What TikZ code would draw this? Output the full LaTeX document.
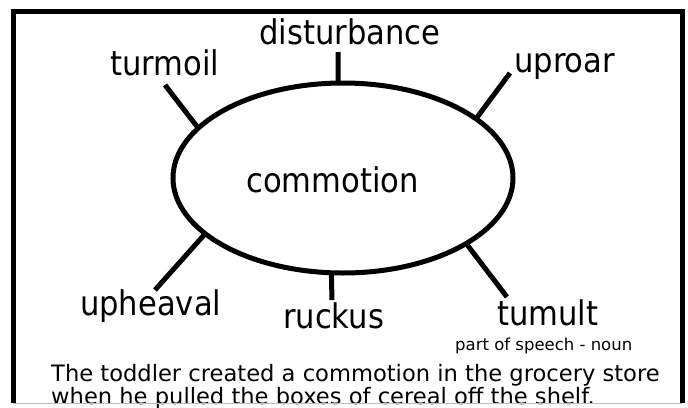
\documentclass[tikz,border=0pt]{standalone}
\usepackage{fontspec}
\setmainfont{DejaVu Sans Condensed}
\newfontfamily\plainsans{DejaVu Sans}
\usetikzlibrary{shapes.geometric}
\tikzset{
    hub/.style={draw, ellipse, line width=5pt, minimum width=340pt, minimum height=190pt, inner sep=0pt, outer sep=0pt},
    word/.style={font=\fontsize{34}{40}\selectfont, inner sep=0pt, anchor=base west},
    note/.style={font=\plainsans\fontsize{16.5}{20}\selectfont, inner sep=0pt, anchor=base west},
    sentence/.style={font=\plainsans\fontsize{22.6}{27}\selectfont, inner sep=0pt, anchor=base west},
    spoke/.style={line width=5pt},
    frame/.style={line width=5pt}
}

\begin{document}
\begin{tikzpicture}[x=1pt, y=-1pt]
\useasboundingbox (0,0) rectangle (688,407);

% border
\draw [frame] (13,403) |- (682,11.5) -- (682,403);

\node [hub]               (ring)        at (343,178) {};
\node [word]              (commotion)   at (246,192) {commotion};

\node [word]              (disturbance) at (259,44)  {disturbance};
\node [word]              (turmoil)     at (110,75)  {turmoil};
\node [word]              (uproar)      at (514,72)  {uproar};
\node [word]              (upheaval)    at (80,315)  {upheaval};
\node [word]              (ruckus)      at (283,328) {ruckus};
\node [word]              (tumult)      at (497,325) {tumult};
\node [note]              (pos)         at (455,350) {part of speech - noun};
\node [sentence]          (line1)       at (51,381)  {The toddler created a commotion in the grocery store};
\node [sentence]          (line2)       at (51,404)  {when he pulled the boxes of cereal off the shelf.};

\coordinate (dtick) at (338,52);
\coordinate (ttick) at (165,85);
\coordinate (utick) at (510,73);
\coordinate (htick) at (155,290);
\coordinate (rtick) at (332,300);
\coordinate (mtick) at (507,297);

\draw [spoke] (dtick) -- (ring.93);
\draw [spoke] (ttick) -- (ring.161.4);
\draw [spoke] (utick) -- (ring.24.4);
\draw [spoke] (htick) -- (ring.202.7);
\draw [spoke] (rtick) -- (ring.263.4);
\draw [spoke] (mtick) -- (ring.332.3);

\draw [gray!50, line width=1pt] (13,403.5) -- (682,403.5);

\end{tikzpicture}
\end{document}
